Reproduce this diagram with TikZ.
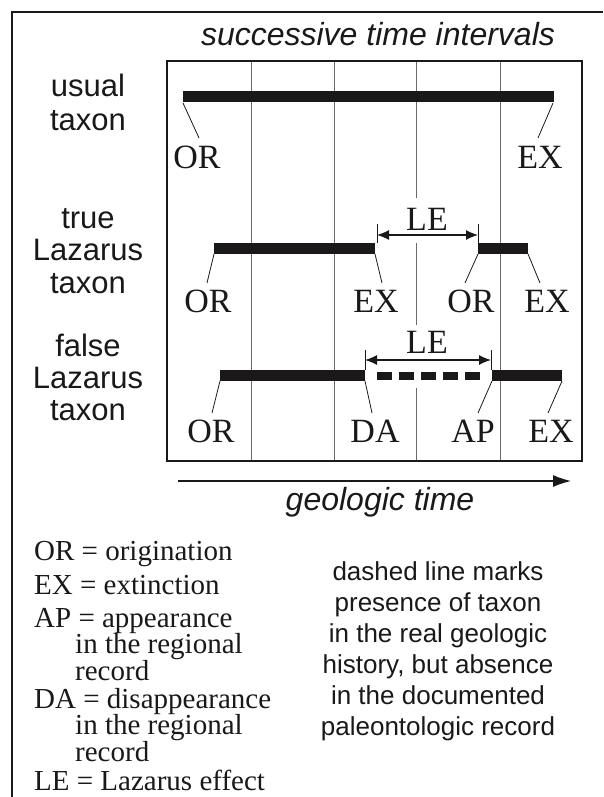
\documentclass[tikz,border=0pt]{standalone}
\usepackage{fontspec}
\setmainfont{Liberation Serif}
\setsansfont{Liberation Sans}
\usetikzlibrary{arrows.meta}
\definecolor{ink}{HTML}{1A1818}
\definecolor{gridc}{HTML}{6A6A6A}
\begin{document}
\begin{tikzpicture}[x=1pt,y=-1pt,
 sans/.style={font=\sffamily\fontsize{31}{33}\selectfont, inner sep=0pt, anchor=base, text=ink},
 isans/.style={font=\sffamily\itshape\fontsize{32}{34}\selectfont, inner sep=0pt, anchor=base, text=ink},
 abbr/.style={font=\fontsize{34}{34}\selectfont, inner sep=0pt, anchor=base, text=ink},
 leg/.style={font=\fontsize{29}{29}\selectfont, inner sep=0pt, anchor=base west, text=ink},
 note/.style={font=\sffamily\fontsize{26}{26}\selectfont, inner sep=0pt, anchor=base, text=ink},
 bar/.style={line width=11pt, ink},
 gapbar/.style={line width=8pt, ink, dash pattern=on 15pt off 7pt},
 callout/.style={line width=0.8pt, ink},
 vline/.style={line width=1pt, gridc},
 lea/.style={line width=1.2pt, ink, {Latex[length=12pt,width=10pt]}-{Latex[length=12pt,width=10pt]}},
 tick/.style={line width=0.8pt, ink}]
\useasboundingbox (0,0) rectangle (603,797);
% outer frame (cut off at right and bottom)
\draw[line width=2pt, ink] (12,797) -- (12,12) -- (603,12);
% title
\node[isans] (title) at (378,46) {successive time intervals};
% inner box and interval lines
\draw[vline] (251,61) -- (251,461);
\draw[vline] (334,61) -- (334,461);
\draw[vline] (500,61) -- (500,461);
\draw[vline] (416,61) -- (416,198);
\draw[vline] (416,243) -- (416,325);
\draw[vline] (416,388) -- (416,461);
\draw[line width=1.6pt, ink] (167,61) rectangle (582,461);
% row labels
\node[sans] (u1) at (88,97) {usual};
\node[sans] (u2) at (88,130) {taxon};
\node[sans] (t1) at (88,228) {true};
\node[sans] (t2) at (88,260) {Lazarus};
\node[sans] (t3) at (88,293) {taxon};
\node[sans] (f1) at (88,356) {false};
\node[sans] (f2) at (88,388) {Lazarus};
\node[sans] (f3) at (88,420) {taxon};
% row 1
\coordinate (a1) at (183,96.5); \coordinate (a2) at (554,96.5);
\draw[bar] (a1) -- (a2);
\node[abbr] (or1) at (197,168) {OR};
\node[abbr] (ex1) at (540,168) {EX};
\coordinate (c1a) at (183,103); \coordinate (c1b) at (199,138);
\coordinate (c2a) at (553,103); \coordinate (c2b) at (538,138);
\draw[callout] (c1a) -- (c1b);
\draw[callout] (c2a) -- (c2b);
% row 2
\coordinate (b1) at (214,248); \coordinate (b2) at (375,248);
\coordinate (b3) at (478,248); \coordinate (b4) at (528,248);
\draw[bar] (b1) -- (b2);
\draw[bar] (b3) -- (b4);
\node[abbr] (or2) at (208,312) {OR};
\node[abbr] (ex2) at (376,312) {EX};
\node[abbr] (or3) at (471,312) {OR};
\node[abbr] (ex3) at (547,312) {EX};
\coordinate (d1a) at (214,254); \coordinate (d1b) at (207,283);
\coordinate (d2a) at (375,254); \coordinate (d2b) at (382,283);
\coordinate (d3a) at (478,254); \coordinate (d3b) at (465,283);
\coordinate (d4a) at (528,254); \coordinate (d4b) at (540,283);
\draw[callout] (d1a) -- (d1b);
\draw[callout] (d2a) -- (d2b);
\draw[callout] (d3a) -- (d3b);
\draw[callout] (d4a) -- (d4b);
\coordinate (le1a) at (377,235); \coordinate (le1b) at (478,235);
\coordinate (k1a) at (377,224); \coordinate (k1b) at (377,243);
\coordinate (k2a) at (478,224); \coordinate (k2b) at (478,243);
\draw[tick] (k1a) -- (k1b);
\draw[tick] (k2a) -- (k2b);
\draw[lea] (le1a) -- (le1b);
\node[abbr] (le1) at (427,230) {LE};
% row 3
\coordinate (e1) at (220,375.5); \coordinate (e2) at (365,375.5);
\coordinate (e3) at (492,375.5); \coordinate (e4) at (562,375.5);
\coordinate (g1) at (377,375.5); \coordinate (g2) at (480,375.5);
\draw[bar] (e1) -- (e2);
\draw[bar] (e3) -- (e4);
\draw[gapbar] (g1) -- (g2);
\node[abbr] (or4) at (211,442) {OR};
\node[abbr] (da) at (375,442) {DA};
\node[abbr] (ap) at (473,442) {AP};
\node[abbr] (ex4) at (551,442) {EX};
\coordinate (h1a) at (220,381); \coordinate (h1b) at (212,413);
\coordinate (h2a) at (365,381); \coordinate (h2b) at (372,413);
\coordinate (h3a) at (492,381); \coordinate (h3b) at (478,413);
\coordinate (h4a) at (562,381); \coordinate (h4b) at (548,413);
\draw[callout] (h1a) -- (h1b);
\draw[callout] (h2a) -- (h2b);
\draw[callout] (h3a) -- (h3b);
\draw[callout] (h4a) -- (h4b);
\coordinate (le2a) at (365,360); \coordinate (le2b) at (491,360);
\coordinate (m1a) at (365,350); \coordinate (m1b) at (365,370);
\coordinate (m2a) at (491,350); \coordinate (m2b) at (491,370);
\draw[tick] (m1a) -- (m1b);
\draw[tick] (m2a) -- (m2b);
\draw[lea] (le2a) -- (le2b);
\node[abbr] (le2) at (427,353) {LE};
% time arrow
\coordinate (ta) at (178,481); \coordinate (tb) at (571,481);
\draw[line width=1.2pt, ink, -{Latex[length=18pt,width=12pt]}] (ta) -- (tb);
\node[isans] (gt) at (380,510) {geologic time};
% legend
\node[leg] (l1) at (34,560) {OR = origination};
\node[leg] (l2) at (34,594) {EX = extinction};
\node[leg] (l3) at (34,627) {AP = appearance};
\node[leg] (l3b) at (75,653.5) {in the regional};
\node[leg] (l3c) at (75,680) {record};
\node[leg] (l4) at (34,708) {DA = disappearance};
\node[leg] (l4b) at (75,734.5) {in the regional};
\node[leg] (l4c) at (75,761) {record};
\node[leg] (l5) at (34,790) {LE = Lazarus effect};
% note
\node[note] (n1) at (438,580) {dashed line marks};
\node[note] (n2) at (438,611) {presence of taxon};
\node[note] (n3) at (438,642) {in the real geologic};
\node[note] (n4) at (438,673) {history, but absence};
\node[note] (n5) at (438,704) {in the documented};
\node[note] (n6) at (438,735) {paleontologic record};
\end{tikzpicture}
\end{document}
